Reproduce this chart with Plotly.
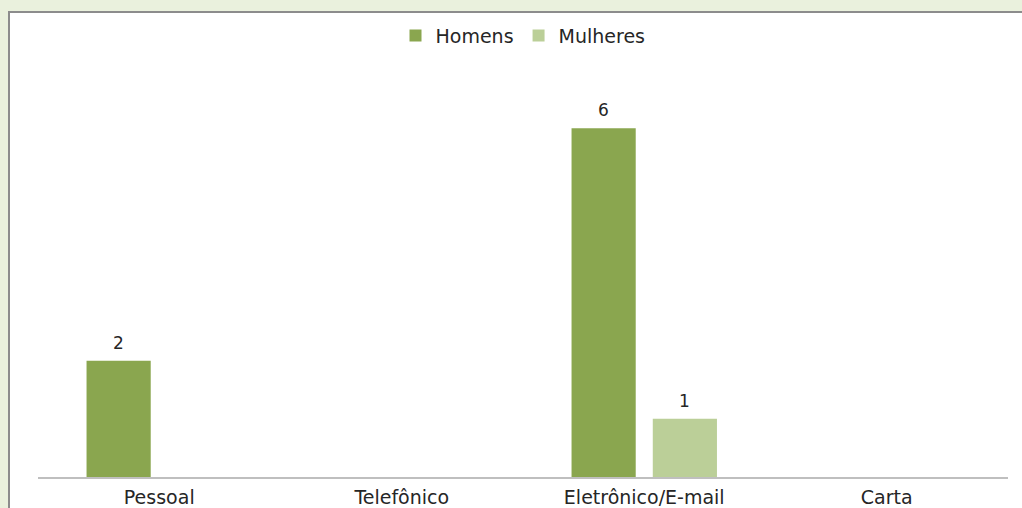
import plotly.graph_objects as go

categories = ["Pessoal", "Telefônico", "Eletrônico/E-mail", "Carta"]
homens = [2, 0, 6, 0]
mulheres = [0, 0, 1, 0]

font_family = "DejaVu Sans, Verdana, sans-serif"
c_h = "#8AA64F"
c_m = "#BBCF98"

fig = go.Figure()
fig.add_trace(go.Bar(name="Homens", x=categories, y=homens, marker_color=c_h,
                     marker_line_width=0, offsetgroup="h"))
fig.add_trace(go.Bar(name="Mulheres", x=categories, y=mulheres, marker_color=c_m,
                     marker_line_width=0, offsetgroup="m"))

# data labels (skip zero values), positioned over the grouped bars via xshift
annotations = []
for vals, shift in ((homens, -40.5), (mulheres, 40.5)):
    for cat, v in zip(categories, vals):
        if v:
            annotations.append(dict(x=cat, y=v, xref="x", yref="y", text=str(v),
                                    showarrow=False, yanchor="bottom", yshift=6,
                                    xshift=shift,
                                    font=dict(size=17, color="#262626")))

fig.update_layout(
    width=1022, height=508,
    paper_bgcolor="#EAF1DD", plot_bgcolor="white",
    margin=dict(l=38, r=14, t=70, b=31),
    barmode="group", bargap=0.33, bargroupgap=0.21,
    font=dict(family=font_family, size=19, color="#262626"),
    showlegend=True,
    legend=dict(orientation="h", x=0.5, xanchor="center", y=0.93, yanchor="middle",
                yref="container", font=dict(size=19), bgcolor="rgba(0,0,0,0)",
                traceorder="normal", itemwidth=30),
    xaxis=dict(showline=True, linecolor="#BFBFBF", linewidth=2, ticks="",
               showgrid=False, tickfont=dict(size=19), automargin=False,
               ticklabelstandoff=2),
    yaxis=dict(range=[0, 7], visible=False, showgrid=False, zeroline=False,
               automargin=False),
    annotations=annotations,
    shapes=[dict(type="rect", xref="paper", yref="paper", layer="below",
                 x0=-29/970, x1=1.2, y0=-0.5, y1=(508-12-31)/407,
                 fillcolor="white", line=dict(color="#8C8C8C", width=2))],
)

fig.write_html("out.html", config={"displayModeBar": False},
               post_script="document.body.style.margin='0';document.body.style.overflow='hidden';")
